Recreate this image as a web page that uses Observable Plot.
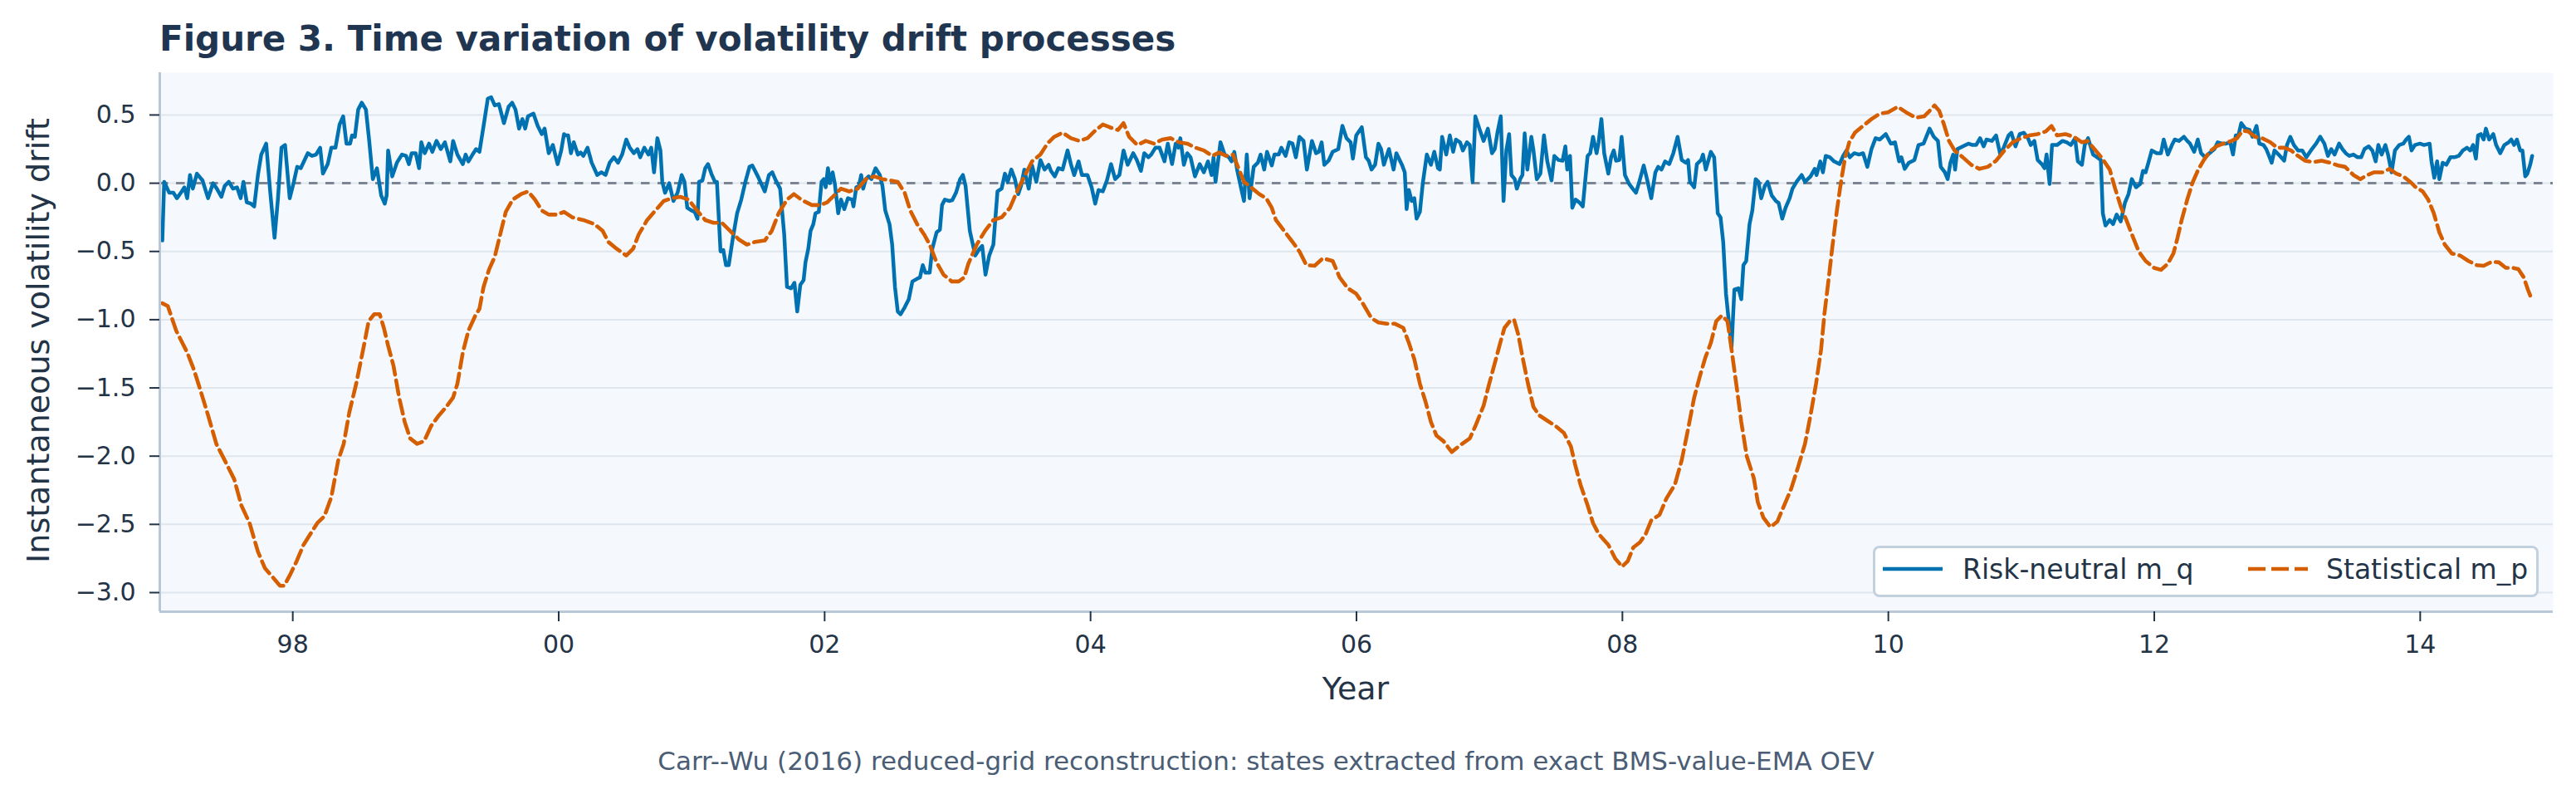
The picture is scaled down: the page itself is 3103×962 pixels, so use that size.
<!DOCTYPE html>
<html>
<head>
<meta charset="utf-8">
<script src="https://cdn.jsdelivr.net/npm/d3@7"></script>
<script src="https://cdn.jsdelivr.net/npm/@observablehq/plot@0.6"></script>
<style>
  body { margin: 0; background: #ffffff; font-family: "DejaVu Sans", sans-serif; }
  #wrap { position: relative; width: 3103px; height: 962px; overflow: hidden; background: #ffffff; }
  #title { position: absolute; left: 192px; top: 26px; font-size: 42px; line-height: 42px; font-weight: bold; color: #1f3550; white-space: nowrap; }
  #chart { position: absolute; left: 0; top: 80px; }
  #ylabel { position: absolute; left: -254px; top: 391px; width: 600px; height: 38px; font-size: 38px; line-height: 38px; text-align: center; color: #243447; transform: rotate(-90deg); white-space: nowrap; }
  #xlabel { position: absolute; left: 1433px; top: 810px; width: 400px; font-size: 38px; line-height: 38px; text-align: center; color: #243447; white-space: nowrap; }
  #caption { position: absolute; left: 525px; top: 901px; width: 2000px; font-size: 31px; line-height: 31px; text-align: center; color: #4a5d75; white-space: nowrap; }
  #legend { position: absolute; left: 2256px; top: 657px; width: 802px; height: 62px; box-sizing: border-box; border: 3px solid #c3d1df; border-radius: 8px; background: #ffffff; }
  #legend .item { position: absolute; top: 9px; font-size: 33px; line-height: 33px; color: #243447; white-space: nowrap; }
  #legend svg { position: absolute; }
</style>
</head>
<body>
<div id="wrap">
  <div id="title">Figure 3. Time variation of volatility drift processes</div>
  <div id="chart"></div>
  <div id="ylabel">Instantaneous volatility drift</div>
  <div id="xlabel">Year</div>
  <div id="caption">Carr--Wu (2016) reduced-grid reconstruction: states extracted from exact BMS-value-EMA OEV</div>
  <div id="legend"></div>
</div>
<script>
// ---- Data (decimal year, value) ----
const seriesNames = ["Risk-neutral m_q", "Statistical m_p"];
const seriesColors = ["#0072b2", "#d55e00"];

const riskNeutral = [
[1997.019,-0.42],[1997.033,0.01],[1997.071,-0.07],[1997.102,-0.07],[1997.129,-0.11],[1997.165,-0.06],[1997.185,-0.03],[1997.206,-0.11],[1997.227,0.06],[1997.248,-0.04],[1997.279,0.07],[1997.321,0.02],[1997.363,-0.11],[1997.400,0.00],[1997.429,-0.04],[1997.463,-0.10],[1997.488,-0.02],[1997.519,0.01],[1997.550,-0.04],[1997.581,-0.03],[1997.608,-0.11],[1997.629,0.01],[1997.654,-0.14],[1997.685,-0.15],[1997.710,-0.17],[1997.738,0.06],[1997.763,0.21],[1997.800,0.29],[1997.831,-0.07],[1997.863,-0.40],[1997.888,-0.12],[1997.915,0.26],[1997.942,0.28],[1997.977,-0.11],
[1998.008,0.01],[1998.033,0.12],[1998.060,0.11],[1998.113,0.22],[1998.144,0.20],[1998.175,0.21],[1998.206,0.26],[1998.227,0.07],[1998.263,0.14],[1998.290,0.26],[1998.321,0.26],[1998.352,0.43],[1998.379,0.49],[1998.404,0.29],[1998.431,0.29],[1998.446,0.35],[1998.467,0.34],[1998.492,0.54],[1998.519,0.59],[1998.550,0.54],[1998.575,0.31],[1998.602,0.03],[1998.633,0.11],[1998.665,-0.09],[1998.692,-0.15],[1998.706,-0.09],[1998.717,0.24],[1998.748,0.05],[1998.783,0.15],[1998.821,0.21],[1998.852,0.20],[1998.873,0.14],[1998.894,0.22],[1998.925,0.22],[1998.950,0.11],[1998.967,0.30],[1998.992,0.22],
[1999.025,0.29],[1999.050,0.23],[1999.081,0.31],[1999.113,0.25],[1999.144,0.30],[1999.185,0.16],[1999.206,0.31],[1999.238,0.21],[1999.279,0.14],[1999.300,0.21],[1999.321,0.16],[1999.352,0.21],[1999.379,0.25],[1999.404,0.23],[1999.435,0.42],[1999.467,0.62],[1999.492,0.63],[1999.519,0.57],[1999.550,0.58],[1999.588,0.44],[1999.623,0.56],[1999.650,0.59],[1999.675,0.54],[1999.702,0.40],[1999.727,0.47],[1999.748,0.40],[1999.769,0.49],[1999.810,0.51],[1999.842,0.42],[1999.873,0.36],[1999.894,0.40],[1999.925,0.22],[1999.956,0.28],[1999.992,0.14],
[2000.019,0.24],[2000.040,0.36],[2000.050,0.35],[2000.071,0.35],[2000.092,0.22],[2000.113,0.30],[2000.144,0.21],[2000.165,0.225],[2000.185,0.20],[2000.217,0.26],[2000.248,0.15],[2000.290,0.06],[2000.321,0.08],[2000.352,0.06],[2000.383,0.15],[2000.415,0.19],[2000.446,0.15],[2000.477,0.21],[2000.508,0.32],[2000.535,0.26],[2000.565,0.22],[2000.592,0.25],[2000.613,0.19],[2000.644,0.26],[2000.675,0.21],[2000.696,0.26],[2000.717,0.08],[2000.742,0.33],[2000.765,0.24],[2000.779,0.01],[2000.800,-0.07],[2000.831,0.00],[2000.863,-0.13],[2000.894,-0.07],[2000.925,0.06],[2000.946,0.01],[2000.967,-0.18],[2000.998,-0.20],
[2001.023,-0.21],[2001.044,-0.26],[2001.056,0.01],[2001.081,0.02],[2001.102,0.11],[2001.123,0.14],[2001.148,0.07],[2001.175,0.01],[2001.190,0.01],[2001.217,-0.50],[2001.238,-0.49],[2001.258,-0.60],[2001.279,-0.60],[2001.310,-0.40],[2001.342,-0.22],[2001.373,-0.12],[2001.404,0.01],[2001.435,0.12],[2001.456,0.13],[2001.498,0.05],[2001.550,-0.06],[2001.581,0.06],[2001.606,0.08],[2001.633,0.02],[2001.665,-0.04],[2001.696,-0.375],[2001.717,-0.76],[2001.748,-0.77],[2001.773,-0.73],[2001.794,-0.94],[2001.817,-0.745],[2001.842,-0.71],[2001.856,-0.58],[2001.877,-0.48],[2001.894,-0.35],[2001.915,-0.30],[2001.931,-0.22],[2001.956,-0.21],[2001.977,0.01],[2001.994,0.03],
[2002.008,-0.03],[2002.025,0.11],[2002.040,0.00],[2002.060,0.08],[2002.077,-0.005],[2002.102,-0.22],[2002.123,-0.12],[2002.148,-0.19],[2002.175,-0.11],[2002.206,-0.12],[2002.217,-0.17],[2002.238,-0.03],[2002.258,-0.02],[2002.275,0.06],[2002.290,-0.04],[2002.310,0.03],[2002.331,0.05],[2002.352,0.03],[2002.383,0.11],[2002.415,0.06],[2002.435,-0.02],[2002.456,-0.20],[2002.488,-0.30],[2002.508,-0.45],[2002.529,-0.76],[2002.550,-0.94],[2002.571,-0.96],[2002.602,-0.91],[2002.633,-0.85],[2002.660,-0.72],[2002.696,-0.70],[2002.717,-0.69],[2002.738,-0.60],[2002.758,-0.655],[2002.790,-0.655],[2002.810,-0.48],[2002.842,-0.36],[2002.867,-0.34],[2002.883,-0.16],[2002.904,-0.12],[2002.935,-0.13],[2002.960,-0.125],[2002.988,-0.07],
[2003.019,0.03],[2003.040,0.06],[2003.060,-0.02],[2003.092,-0.35],[2003.133,-0.53],[2003.165,-0.48],[2003.185,-0.46],[2003.210,-0.67],[2003.238,-0.53],[2003.269,-0.45],[2003.300,-0.06],[2003.331,-0.04],[2003.356,0.07],[2003.377,0.01],[2003.404,0.10],[2003.431,0.03],[2003.456,-0.08],[2003.477,-0.02],[2003.502,0.10],[2003.535,-0.04],[2003.560,0.13],[2003.592,0.01],[2003.623,0.17],[2003.654,0.10],[2003.685,0.135],[2003.702,0.09],[2003.731,0.05],[2003.758,0.11],[2003.790,0.10],[2003.827,0.24],[2003.852,0.14],[2003.877,0.06],[2003.910,0.16],[2003.935,0.06],[2003.977,0.06],
[2004.008,-0.03],[2004.035,-0.15],[2004.060,-0.05],[2004.092,-0.06],[2004.123,0.02],[2004.154,0.14],[2004.185,0.03],[2004.217,0.06],[2004.248,0.24],[2004.279,0.135],[2004.321,0.22],[2004.348,0.17],[2004.379,0.09],[2004.404,0.22],[2004.435,0.19],[2004.456,0.21],[2004.488,0.26],[2004.519,0.26],[2004.556,0.16],[2004.581,0.29],[2004.613,0.14],[2004.640,0.29],[2004.660,0.26],[2004.675,0.33],[2004.702,0.135],[2004.727,0.22],[2004.752,0.19],[2004.785,0.05],[2004.821,0.14],[2004.852,0.08],[2004.883,0.16],[2004.910,0.06],[2004.925,0.19],[2004.940,0.01],[2004.960,0.17],[2004.977,0.30],
[2005.008,0.21],[2005.040,0.19],[2005.060,0.16],[2005.081,0.23],[2005.102,0.10],[2005.133,-0.04],[2005.154,-0.13],[2005.175,0.21],[2005.196,-0.11],[2005.227,0.12],[2005.258,0.15],[2005.279,0.21],[2005.306,0.10],[2005.327,0.23],[2005.363,0.13],[2005.383,0.21],[2005.415,0.21],[2005.435,0.26],[2005.467,0.20],[2005.494,0.30],[2005.519,0.29],[2005.544,0.19],[2005.571,0.34],[2005.602,0.31],[2005.627,0.10],[2005.665,0.31],[2005.696,0.22],[2005.717,0.23],[2005.738,0.30],[2005.758,0.135],[2005.790,0.165],[2005.821,0.23],[2005.863,0.25],[2005.894,0.42],[2005.925,0.33],[2005.956,0.30],[2005.973,0.18],[2005.998,0.35],
[2006.040,0.41],[2006.071,0.19],[2006.092,0.165],[2006.113,0.10],[2006.140,0.135],[2006.165,0.29],[2006.185,0.25],[2006.206,0.135],[2006.244,0.25],[2006.279,0.10],[2006.300,0.22],[2006.342,0.135],[2006.363,0.08],[2006.377,-0.19],[2006.394,-0.05],[2006.415,-0.13],[2006.435,-0.11],[2006.452,-0.26],[2006.477,-0.21],[2006.498,-0.005],[2006.529,0.21],[2006.560,0.135],[2006.585,0.23],[2006.613,0.11],[2006.627,0.10],[2006.644,0.34],[2006.675,0.21],[2006.702,0.35],[2006.727,0.23],[2006.748,0.32],[2006.779,0.30],[2006.800,0.24],[2006.831,0.30],[2006.852,0.28],[2006.873,0.01],[2006.894,0.49],[2006.931,0.38],[2006.956,0.31],[2006.988,0.40],
[2007.019,0.22],[2007.040,0.25],[2007.060,0.37],[2007.085,0.49],[2007.106,-0.13],[2007.127,0.24],[2007.148,0.36],[2007.165,0.06],[2007.190,0.03],[2007.206,-0.04],[2007.231,0.03],[2007.248,0.06],[2007.265,0.365],[2007.285,0.10],[2007.315,0.34],[2007.331,0.24],[2007.356,0.03],[2007.383,0.07],[2007.410,0.35],[2007.435,0.16],[2007.467,0.02],[2007.488,0.20],[2007.519,0.17],[2007.550,0.165],[2007.571,0.27],[2007.585,0.10],[2007.606,0.20],[2007.623,-0.18],[2007.648,-0.12],[2007.675,-0.14],[2007.702,-0.17],[2007.738,0.20],[2007.758,0.22],[2007.779,0.34],[2007.806,0.22],[2007.821,0.30],[2007.842,0.47],[2007.863,0.22],[2007.894,0.07],[2007.915,0.19],[2007.935,0.24],[2007.952,0.165],[2007.977,0.17],[2007.994,0.34],
[2008.019,0.06],[2008.050,-0.005],[2008.077,-0.04],[2008.102,-0.07],[2008.127,0.01],[2008.160,0.13],[2008.185,0.03],[2008.217,-0.11],[2008.248,0.08],[2008.269,0.12],[2008.294,0.10],[2008.321,0.16],[2008.352,0.14],[2008.383,0.22],[2008.415,0.34],[2008.446,0.17],[2008.477,0.15],[2008.494,0.17],[2008.508,0.01],[2008.540,-0.03],[2008.560,0.14],[2008.592,0.17],[2008.606,0.21],[2008.627,0.10],[2008.665,0.23],[2008.690,0.19],[2008.717,-0.22],[2008.738,-0.25],[2008.758,-0.43],[2008.779,-0.81],[2008.800,-1.01],[2008.821,-1.20],[2008.842,-0.78],[2008.873,-0.77],[2008.894,-0.85],[2008.910,-0.60],[2008.931,-0.57],[2008.956,-0.30],[2008.977,-0.20],
[2009.002,0.03],[2009.023,0.01],[2009.044,-0.11],[2009.071,-0.02],[2009.092,0.01],[2009.123,-0.09],[2009.154,-0.13],[2009.175,-0.145],[2009.202,-0.26],[2009.227,-0.18],[2009.258,-0.11],[2009.279,-0.04],[2009.310,0.01],[2009.348,0.06],[2009.373,0.01],[2009.415,0.05],[2009.446,0.105],[2009.460,0.06],[2009.488,0.16],[2009.508,0.08],[2009.529,0.20],[2009.560,0.19],[2009.592,0.16],[2009.633,0.14],[2009.660,0.20],[2009.685,0.24],[2009.710,0.19],[2009.744,0.22],[2009.779,0.21],[2009.810,0.22],[2009.842,0.12],[2009.873,0.25],[2009.904,0.33],[2009.935,0.32],[2009.981,0.36],
[2010.019,0.29],[2010.050,0.30],[2010.081,0.16],[2010.098,0.19],[2010.123,0.105],[2010.154,0.15],[2010.196,0.17],[2010.227,0.28],[2010.265,0.29],[2010.310,0.40],[2010.342,0.34],[2010.373,0.31],[2010.394,0.12],[2010.425,0.08],[2010.446,0.03],[2010.467,0.15],[2010.488,0.21],[2010.502,0.10],[2010.519,0.25],[2010.560,0.27],[2010.602,0.29],[2010.633,0.28],[2010.660,0.28],[2010.690,0.33],[2010.717,0.27],[2010.738,0.32],[2010.779,0.31],[2010.810,0.35],[2010.842,0.21],[2010.863,0.25],[2010.904,0.35],[2010.925,0.37],[2010.956,0.27],[2010.988,0.36],
[2011.019,0.37],[2011.050,0.33],[2011.071,0.28],[2011.098,0.31],[2011.123,0.17],[2011.154,0.14],[2011.175,0.11],[2011.190,0.21],[2011.213,-0.005],[2011.231,0.28],[2011.269,0.28],[2011.310,0.31],[2011.342,0.30],[2011.373,0.28],[2011.404,0.33],[2011.425,0.16],[2011.456,0.135],[2011.477,0.28],[2011.502,0.33],[2011.540,0.21],[2011.571,0.19],[2011.598,0.17],[2011.613,-0.22],[2011.633,-0.31],[2011.665,-0.27],[2011.690,-0.30],[2011.717,-0.23],[2011.748,-0.28],[2011.779,-0.145],[2011.806,-0.08],[2011.831,0.03],[2011.863,-0.03],[2011.894,-0.005],[2011.915,0.09],[2011.935,0.08],[2011.956,0.15],[2011.981,0.24],
[2012.019,0.22],[2012.050,0.22],[2012.071,0.32],[2012.102,0.21],[2012.133,0.28],[2012.154,0.32],[2012.185,0.31],[2012.223,0.34],[2012.248,0.31],[2012.269,0.29],[2012.300,0.23],[2012.327,0.32],[2012.352,0.22],[2012.383,0.19],[2012.415,0.22],[2012.452,0.25],[2012.477,0.30],[2012.508,0.29],[2012.540,0.29],[2012.571,0.30],[2012.592,0.21],[2012.613,0.35],[2012.633,0.35],[2012.654,0.44],[2012.685,0.40],[2012.717,0.39],[2012.738,0.34],[2012.769,0.42],[2012.790,0.29],[2012.821,0.28],[2012.842,0.25],[2012.863,0.20],[2012.883,0.15],[2012.904,0.24],[2012.935,0.21],[2012.977,0.165],[2012.998,0.28],
[2013.023,0.34],[2013.050,0.28],[2013.081,0.24],[2013.113,0.24],[2013.144,0.19],[2013.185,0.25],[2013.217,0.29],[2013.248,0.34],[2013.279,0.29],[2013.306,0.20],[2013.331,0.25],[2013.356,0.21],[2013.390,0.29],[2013.415,0.25],[2013.440,0.22],[2013.467,0.20],[2013.498,0.21],[2013.529,0.19],[2013.556,0.19],[2013.581,0.25],[2013.613,0.27],[2013.640,0.24],[2013.665,0.16],[2013.685,0.28],[2013.710,0.21],[2013.738,0.28],[2013.758,0.21],[2013.785,0.08],[2013.810,0.24],[2013.842,0.28],[2013.873,0.29],[2013.894,0.32],[2013.915,0.34],[2013.935,0.24],[2013.960,0.28],[2013.998,0.29],
[2014.029,0.28],[2014.071,0.29],[2014.085,0.16],[2014.106,0.04],[2014.127,0.16],[2014.144,0.03],[2014.169,0.15],[2014.196,0.135],[2014.227,0.19],[2014.258,0.19],[2014.290,0.20],[2014.321,0.24],[2014.352,0.26],[2014.377,0.24],[2014.398,0.28],[2014.419,0.18],[2014.435,0.35],[2014.456,0.36],[2014.477,0.32],[2014.494,0.40],[2014.519,0.32],[2014.550,0.36],[2014.571,0.28],[2014.602,0.22],[2014.633,0.28],[2014.665,0.30],[2014.685,0.32],[2014.706,0.28],[2014.727,0.32],[2014.752,0.24],[2014.769,0.24],[2014.790,0.05],[2014.806,0.07],[2014.827,0.135],[2014.842,0.20]
];

const statistical = [
[1997.019,-0.88],[1997.060,-0.90],[1997.123,-1.08],[1997.206,-1.24],[1997.258,-1.37],[1997.300,-1.50],[1997.363,-1.70],[1997.425,-1.91],[1997.488,-2.03],[1997.560,-2.17],[1997.613,-2.36],[1997.675,-2.49],[1997.738,-2.70],[1997.790,-2.82],[1997.852,-2.89],[1997.904,-2.95],[1997.935,-2.95],[1997.977,-2.875],
[1998.029,-2.77],[1998.081,-2.65],[1998.133,-2.57],[1998.185,-2.49],[1998.238,-2.44],[1998.290,-2.30],[1998.342,-2.03],[1998.383,-1.91],[1998.425,-1.68],[1998.477,-1.47],[1998.529,-1.22],[1998.571,-1.01],[1998.613,-0.96],[1998.654,-0.96],[1998.685,-1.06],[1998.717,-1.19],[1998.758,-1.34],[1998.800,-1.57],[1998.842,-1.75],[1998.883,-1.87],[1998.935,-1.91],[1998.988,-1.89],
[1999.040,-1.78],[1999.092,-1.71],[1999.154,-1.64],[1999.206,-1.57],[1999.238,-1.47],[1999.279,-1.24],[1999.321,-1.08],[1999.373,-0.97],[1999.404,-0.92],[1999.435,-0.76],[1999.477,-0.63],[1999.519,-0.54],[1999.560,-0.375],[1999.602,-0.21],[1999.654,-0.12],[1999.717,-0.08],[1999.769,-0.06],[1999.821,-0.12],[1999.873,-0.20],[1999.925,-0.23],[1999.988,-0.23],
[2000.040,-0.21],[2000.102,-0.25],[2000.185,-0.27],[2000.269,-0.30],[2000.331,-0.35],[2000.373,-0.43],[2000.435,-0.48],[2000.508,-0.53],[2000.560,-0.48],[2000.602,-0.375],[2000.665,-0.27],[2000.727,-0.20],[2000.790,-0.13],[2000.852,-0.11],[2000.915,-0.10],[2000.977,-0.12],
[2001.040,-0.20],[2001.102,-0.27],[2001.165,-0.29],[2001.227,-0.29],[2001.290,-0.35],[2001.352,-0.41],[2001.415,-0.45],[2001.477,-0.43],[2001.550,-0.42],[2001.602,-0.35],[2001.654,-0.22],[2001.717,-0.12],[2001.769,-0.08],[2001.831,-0.125],[2001.904,-0.16],[2001.967,-0.16],
[2002.019,-0.14],[2002.071,-0.09],[2002.123,-0.04],[2002.185,-0.06],[2002.248,-0.04],[2002.310,0.03],[2002.373,0.05],[2002.435,0.03],[2002.498,0.02],[2002.550,0.01],[2002.602,-0.07],[2002.644,-0.20],[2002.696,-0.30],[2002.748,-0.375],[2002.790,-0.45],[2002.842,-0.58],[2002.894,-0.67],[2002.956,-0.72],
[2003.008,-0.72],[2003.050,-0.69],[2003.081,-0.59],[2003.144,-0.45],[2003.206,-0.35],[2003.269,-0.27],[2003.331,-0.25],[2003.394,-0.18],[2003.456,-0.04],[2003.508,0.06],[2003.560,0.16],[2003.623,0.21],[2003.675,0.29],[2003.727,0.34],[2003.790,0.37],[2003.852,0.33],[2003.915,0.31],[2003.977,0.33],
[2004.040,0.39],[2004.092,0.43],[2004.144,0.41],[2004.206,0.39],[2004.248,0.44],[2004.290,0.34],[2004.352,0.28],[2004.415,0.31],[2004.477,0.29],[2004.540,0.32],[2004.602,0.33],[2004.665,0.30],[2004.727,0.29],[2004.790,0.26],[2004.852,0.24],[2004.915,0.20],[2004.967,0.225],
[2005.019,0.20],[2005.071,0.21],[2005.113,0.11],[2005.154,0.01],[2005.206,-0.03],[2005.269,-0.08],[2005.321,-0.11],[2005.363,-0.18],[2005.394,-0.27],[2005.456,-0.35],[2005.519,-0.43],[2005.571,-0.50],[2005.623,-0.60],[2005.685,-0.605],[2005.748,-0.55],[2005.821,-0.57],[2005.873,-0.69],[2005.935,-0.77],[2005.998,-0.81],
[2006.050,-0.885],[2006.113,-0.99],[2006.165,-1.02],[2006.227,-1.03],[2006.290,-1.03],[2006.352,-1.06],[2006.394,-1.17],[2006.435,-1.29],[2006.477,-1.47],[2006.519,-1.60],[2006.560,-1.75],[2006.602,-1.85],[2006.654,-1.89],[2006.717,-1.97],[2006.779,-1.92],[2006.852,-1.87],[2006.894,-1.78],[2006.956,-1.63],[2006.998,-1.47],
[2007.040,-1.32],[2007.081,-1.17],[2007.113,-1.06],[2007.154,-1.01],[2007.185,-1.00],[2007.217,-1.11],[2007.248,-1.27],[2007.290,-1.47],[2007.331,-1.64],[2007.373,-1.70],[2007.435,-1.74],[2007.498,-1.78],[2007.560,-1.83],[2007.613,-1.93],[2007.644,-2.06],[2007.685,-2.21],[2007.738,-2.36],[2007.779,-2.49],[2007.821,-2.57],[2007.894,-2.65],[2007.946,-2.75],[2007.998,-2.81],
[2008.040,-2.77],[2008.081,-2.67],[2008.133,-2.63],[2008.175,-2.57],[2008.217,-2.47],[2008.279,-2.43],[2008.331,-2.31],[2008.394,-2.21],[2008.446,-2.03],[2008.488,-1.83],[2008.540,-1.57],[2008.581,-1.42],[2008.623,-1.28],[2008.665,-1.17],[2008.706,-1.01],[2008.748,-0.97],[2008.790,-1.01],[2008.821,-1.22],[2008.863,-1.52],[2008.894,-1.75],[2008.935,-2.00],[2008.988,-2.16],
[2009.019,-2.34],[2009.060,-2.45],[2009.113,-2.52],[2009.165,-2.48],[2009.217,-2.36],[2009.269,-2.24],[2009.321,-2.08],[2009.373,-1.91],[2009.415,-1.70],[2009.456,-1.47],[2009.494,-1.22],[2009.519,-0.96],[2009.550,-0.71],[2009.581,-0.45],[2009.613,-0.20],[2009.644,0.01],[2009.675,0.19],[2009.706,0.30],[2009.748,0.37],[2009.810,0.42],[2009.873,0.47],[2009.935,0.51],[2009.998,0.52],
[2010.071,0.56],[2010.133,0.52],[2010.206,0.48],[2010.269,0.49],[2010.310,0.53],[2010.348,0.57],[2010.383,0.53],[2010.415,0.44],[2010.456,0.31],[2010.498,0.24],[2010.560,0.19],[2010.623,0.135],[2010.685,0.105],[2010.748,0.12],[2010.810,0.165],[2010.873,0.24],[2010.935,0.30],[2010.998,0.33],
[2011.060,0.35],[2011.123,0.36],[2011.185,0.38],[2011.227,0.42],[2011.269,0.35],[2011.331,0.36],[2011.394,0.34],[2011.456,0.30],[2011.498,0.31],[2011.550,0.25],[2011.602,0.19],[2011.665,0.10],[2011.706,-0.04],[2011.748,-0.17],[2011.790,-0.27],[2011.842,-0.40],[2011.883,-0.50],[2011.935,-0.57],[2011.998,-0.62],
[2012.050,-0.635],[2012.102,-0.59],[2012.144,-0.515],[2012.175,-0.40],[2012.206,-0.27],[2012.248,-0.12],[2012.290,0.01],[2012.331,0.10],[2012.373,0.17],[2012.415,0.23],[2012.467,0.27],[2012.519,0.29],[2012.581,0.31],[2012.623,0.33],[2012.665,0.385],[2012.706,0.38],[2012.758,0.34],[2012.810,0.33],[2012.873,0.30],[2012.925,0.26],[2012.977,0.26],
[2013.029,0.24],[2013.081,0.20],[2013.133,0.165],[2013.196,0.155],[2013.258,0.165],[2013.321,0.15],[2013.383,0.13],[2013.435,0.12],[2013.498,0.06],[2013.550,0.03],[2013.602,0.06],[2013.654,0.08],[2013.717,0.08],[2013.769,0.105],[2013.821,0.07],[2013.873,0.05],[2013.925,0.01],[2013.967,-0.03],
[2014.019,-0.06],[2014.060,-0.12],[2014.102,-0.22],[2014.144,-0.36],[2014.185,-0.45],[2014.238,-0.515],[2014.300,-0.53],[2014.363,-0.57],[2014.425,-0.60],[2014.477,-0.605],[2014.540,-0.575],[2014.592,-0.58],[2014.644,-0.62],[2014.696,-0.62],[2014.738,-0.63],[2014.779,-0.69],[2014.810,-0.78],[2014.842,-0.86]
];

// ---- Axis definitions ----
const xDomain = [1997, 2015];
const yDomain = [-3.14, 0.81];
const xTicks = [1998, 2000, 2002, 2004, 2006, 2008, 2010, 2012, 2014];
const xTickLabels = ["98", "00", "02", "04", "06", "08", "10", "12", "14"];
const yTicks = [-3.0, -2.5, -2.0, -1.5, -1.0, -0.5, 0.0, 0.5];
const yTickLabels = ["\u22123.0", "\u22122.5", "\u22122.0", "\u22121.5", "\u22121.0", "\u22120.5", "0.0", "0.5"];

const rnData = riskNeutral.map(([year, value]) => ({year, value}));
const stData = statistical.map(([year, value]) => ({year, value}));

const chart = Plot.plot({
  width: 3103,
  height: 800,
  marginLeft: 192,
  marginRight: 28,
  marginTop: 7,
  marginBottom: 144,
  style: {fontFamily: "DejaVu Sans, sans-serif", fontSize: "30px", color: "#243447", background: "transparent", overflow: "visible"},
  x: {domain: xDomain},
  y: {domain: yDomain},
  marks: [
    Plot.frame({fill: "#f5f8fc", stroke: "none"}),
    Plot.gridY(yTicks, {stroke: "#dfe6ee", strokeOpacity: 1, strokeWidth: 2}),
    Plot.ruleY([0], {stroke: "#7b8594", strokeWidth: 3, strokeDasharray: "10.5,9.5"}),
    Plot.line(rnData, {x: "year", y: "value", stroke: seriesColors[0], strokeWidth: 4.5, strokeLinejoin: "round"}),
    Plot.line(stData, {x: "year", y: "value", stroke: seriesColors[1], strokeWidth: 4.6, strokeDasharray: "17,7"}),
    Plot.ruleX([xDomain[0]], {stroke: "#b9c8d8", strokeWidth: 3}),
    Plot.ruleY([yDomain[0]], {stroke: "#b9c8d8", strokeWidth: 3}),
    Plot.axisX(xTicks, {tickFormat: d => xTickLabels[xTicks.indexOf(d)], tickSize: 12, tickPadding: 16, strokeWidth: 2, label: null, fontSize: 30}),
    Plot.axisY(yTicks, {tickFormat: d => yTickLabels[yTicks.indexOf(d)], tickSize: 12, tickPadding: 17, strokeWidth: 2, label: null, fontSize: 30})
  ]
});
document.getElementById("chart").appendChild(chart);

// ---- Legend (HTML overlay inside the plot frame) ----
const legend = document.getElementById("legend");
const legendItems = [
  {name: seriesNames[0], color: seriesColors[0], dash: null, sampleLeft: 9, textLeft: 105},
  {name: seriesNames[1], color: seriesColors[1], dash: "21,7", sampleLeft: 449, textLeft: 543}
];
legendItems.forEach(it => {
  const ns = "http://www.w3.org/2000/svg";
  const svg = document.createElementNS(ns, "svg");
  svg.setAttribute("width", 72);
  svg.setAttribute("height", 12);
  svg.style.left = it.sampleLeft + "px";
  svg.style.top = "19px";
  const ln = document.createElementNS(ns, "line");
  ln.setAttribute("x1", 0); ln.setAttribute("x2", 72);
  ln.setAttribute("y1", 6); ln.setAttribute("y2", 6);
  ln.setAttribute("stroke", it.color);
  ln.setAttribute("stroke-width", 4.6);
  if (it.dash) ln.setAttribute("stroke-dasharray", it.dash);
  svg.appendChild(ln);
  legend.appendChild(svg);
  const t = document.createElement("div");
  t.className = "item";
  t.style.left = it.textLeft + "px";
  t.textContent = it.name;
  legend.appendChild(t);
});
</script>
</body>
</html>
